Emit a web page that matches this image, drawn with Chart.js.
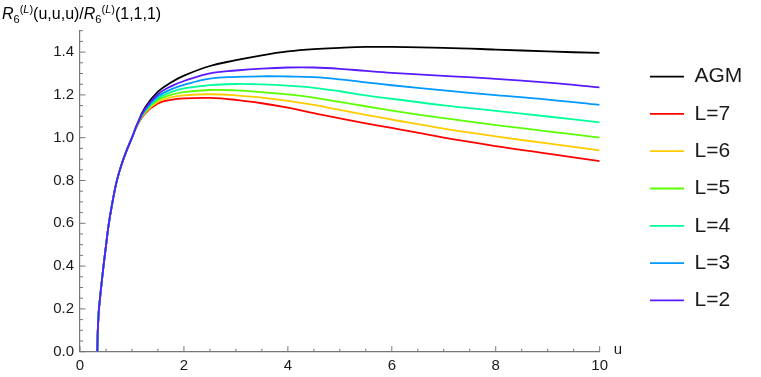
<!DOCTYPE html>
<html><head><meta charset="utf-8">
<script src="https://cdn.jsdelivr.net/npm/chart.js@4.4.1/dist/chart.umd.min.js"></script>
<style>html,body{margin:0;padding:0;background:#fff;overflow:hidden}#wrap{position:relative;width:761px;height:377px}</style>
</head><body><div id="wrap"><canvas id="c" width="761" height="377"></canvas></div>
<script>
// ---- data ----
const uValues = [0.333, 0.34, 0.35, 0.365, 0.4, 0.45, 0.5, 0.55, 0.6, 0.7, 0.8, 0.9, 1.0, 1.1,
                 1.25, 1.5, 1.75, 2.0, 2.5, 3.0, 3.5, 4.0, 4.5, 5.0, 5.5, 6.0, 7.0, 8.0, 9.0, 10.0];
const agm = [0, 0.08, 0.14, 0.2, 0.285, 0.395, 0.495, 0.59, 0.665, 0.79, 0.875, 0.942, 1.0, 1.063,
             1.140, 1.215, 1.258, 1.290, 1.335, 1.362, 1.385, 1.403, 1.414, 1.420, 1.424, 1.424, 1.420, 1.412, 1.403, 1.396];
const L7 = [0, 0.08, 0.14, 0.2, 0.285, 0.395, 0.495, 0.59, 0.665, 0.79, 0.875, 0.942, 1.0, 1.057,
            1.113, 1.160, 1.177, 1.184, 1.186, 1.177, 1.161, 1.140, 1.115, 1.090, 1.067, 1.046, 1.000, 0.961, 0.926, 0.891];
const L6 = [0, 0.08, 0.14, 0.2, 0.285, 0.395, 0.495, 0.59, 0.665, 0.79, 0.875, 0.942, 1.0, 1.058,
            1.117, 1.168, 1.188, 1.198, 1.203, 1.198, 1.187, 1.172, 1.153, 1.130, 1.107, 1.085, 1.042, 1.006, 0.973, 0.941];
const L5 = [0, 0.08, 0.14, 0.2, 0.285, 0.395, 0.495, 0.59, 0.665, 0.79, 0.875, 0.942, 1.0, 1.059,
            1.121, 1.176, 1.200, 1.213, 1.223, 1.221, 1.213, 1.202, 1.187, 1.167, 1.147, 1.127, 1.091, 1.059, 1.030, 1.000];
const L4 = [0, 0.08, 0.14, 0.2, 0.285, 0.395, 0.495, 0.59, 0.665, 0.79, 0.875, 0.942, 1.0, 1.060,
            1.125, 1.184, 1.213, 1.230, 1.246, 1.251, 1.249, 1.243, 1.233, 1.217, 1.198, 1.182, 1.151, 1.125, 1.099, 1.072];
const L3 = [0, 0.08, 0.14, 0.2, 0.285, 0.395, 0.495, 0.59, 0.665, 0.79, 0.875, 0.942, 1.0, 1.061,
            1.129, 1.193, 1.226, 1.247, 1.276, 1.284, 1.287, 1.286, 1.283, 1.273, 1.259, 1.245, 1.221, 1.199, 1.178, 1.153];
const L2 = [0, 0.08, 0.14, 0.2, 0.285, 0.395, 0.495, 0.59, 0.665, 0.79, 0.875, 0.942, 1.0, 1.062,
            1.134, 1.203, 1.240, 1.265, 1.301, 1.314, 1.323, 1.328, 1.328, 1.322, 1.312, 1.303, 1.289, 1.275, 1.257, 1.235];
const seriesLabels = ['AGM', 'L=7', 'L=6', 'L=5', 'L=4', 'L=3', 'L=2'];
const xTickValues = [0, 2, 4, 6, 8, 10];
const yTickValues = [0, 0.2, 0.4, 0.6, 0.8, 1.0, 1.2, 1.4];
const xAxisLabel = 'u';

// ---- styling ----
const seriesValues = [agm, L7, L6, L5, L4, L3, L2];
const seriesColors = ['#000000', '#ff0000', '#ffcc00', '#5cff00', '#00ff99', '#0099ff', '#5a1aff'];
const drawOrder = [6, 5, 4, 3, 2, 1, 0];
const FONT = "'Liberation Sans', Arial, sans-serif";
const AXIS = '#777777';
const TXT = '#1a1a1a';
Chart.defaults.font.family = FONT;

const datasets = seriesValues.map((vals, k) => ({
  label: seriesLabels[k],
  data: uValues.map((u, i) => ({x: u, y: vals[i]})),
  borderColor: seriesColors[k],
  backgroundColor: seriesColors[k],
  borderWidth: 1.8,
  pointRadius: 0,
  pointHoverRadius: 0,
  tension: 0.4,
  fill: false,
  order: drawOrder[k]
}));

const decor = {
  id: 'decor',
  afterDraw(chart) {
    const {ctx} = chart;
    const x = chart.scales.x, y = chart.scales.y;
    const y0 = y.getPixelForValue(0), x0 = x.getPixelForValue(0);
    ctx.save();
    ctx.strokeStyle = AXIS;
    ctx.lineWidth = 1;
    ctx.beginPath();
    for (let i = 0; i <= 20; i++) {           // x ticks every 0.5
      const px = x.getPixelForValue(i * 0.5);
      const len = (i % 4 === 0) ? 5.5 : 3;
      ctx.moveTo(px, y0); ctx.lineTo(px, y0 - len);
    }
    for (let i = 0; i <= 30; i++) {           // y ticks every 0.05
      const py = y.getPixelForValue(i * 0.05);
      const len = (i % 4 === 0) ? 5.5 : 3;
      ctx.moveTo(x0, py); ctx.lineTo(x0 + len, py);
    }
    ctx.stroke();
    // axis label u
    ctx.fillStyle = TXT;
    ctx.font = '15px ' + FONT;
    ctx.textBaseline = 'middle';
    ctx.textAlign = 'left';
    ctx.fillText(xAxisLabel, x.right + 14, y0 - 2);
    // rich title R6^(L)(u,u,u)/R6^(L)(1,1,1)
    const parts = [
      ['R', 'italic 16px', 0], ['6', '11px', 4], ['(', '11px', -6], ['L', 'italic 11px', -6], [')', '11px', -6],
      ['(u,u,u)/', '16px', 0],
      ['R', 'italic 16px', 0], ['6', '11px', 4], ['(', '11px', -6], ['L', 'italic 11px', -6], [')', '11px', -6],
      ['(1,1,1)', '16px', 0]
    ];
    let tx = 2; const base = 18.5;
    ctx.textBaseline = 'alphabetic';
    ctx.fillStyle = '#000';
    for (const [t, f, dy] of parts) {
      ctx.font = f + ' ' + FONT;
      ctx.fillText(t, tx, base + dy);
      tx += ctx.measureText(t).width;
    }
    ctx.restore();
  }
};

new Chart(document.getElementById('c'), {
  type: 'line',
  data: {datasets},
  options: {
    responsive: false,
    animation: false,
    events: [],
    layout: {padding: {left: 0, right: 8.7, top: 0, bottom: 0}},
    plugins: {
      tooltip: {enabled: false},
      title: {display: true, text: ' ', font: {size: 10}, padding: {top: 18.7, bottom: 0}},
      legend: {
        position: 'right',
        align: 'center',
        labels: {
          boxWidth: 34, boxHeight: 0, padding: 16.3,
          color: TXT, font: {size: 21, family: FONT},
          sort: (a, b) => a.datasetIndex - b.datasetIndex
        }
      }
    },
    scales: {
      x: {
        type: 'linear', position: 'bottom', min: 0, max: 10,
        afterBuildTicks: s => { s.ticks = xTickValues.map(v => ({value: v})); },
        afterFit: s => { s.height = 25.3; },
        grid: {display: false, drawTicks: false},
        border: {display: true, color: AXIS, width: 1.2},
        ticks: {color: TXT, font: {size: 15}, padding: 5, maxRotation: 0, autoSkip: false,
                callback: v => String(v)}
      },
      y: {
        type: 'linear', position: 'left', min: 0, max: 1.5,
        afterBuildTicks: s => { s.ticks = yTickValues.map(v => ({value: v})); },
        afterFit: s => { s.width = 80; },
        grid: {display: false, drawTicks: false},
        border: {display: true, color: AXIS, width: 1.2},
        ticks: {color: TXT, font: {size: 15}, padding: 6, autoSkip: false,
                callback: v => Number(v).toFixed(1)}
      },
      spacer: {
        type: 'linear', position: 'right', display: true,
        afterFit: s => { s.width = 34; },
        grid: {display: false, drawTicks: false},
        border: {display: false},
        ticks: {display: false}
      }
    }
  },
  plugins: [decor]
});
</script>
</body></html>
